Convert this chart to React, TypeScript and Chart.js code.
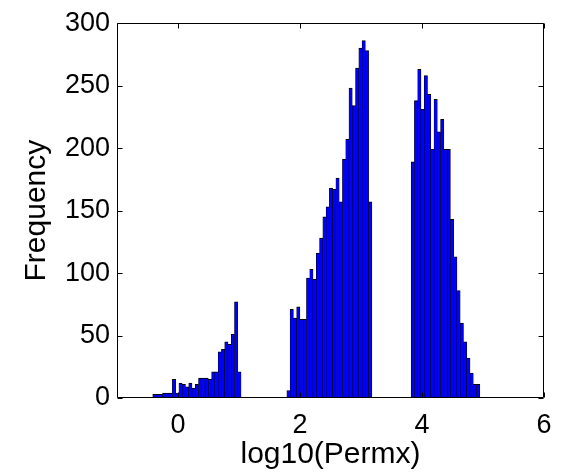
import React, { useEffect, useRef } from "react";
import { Chart, registerables } from "chart.js";

Chart.register(...registerables);

// Histogram: 100 equal bins between binStart and binEnd
const binStart = -0.414;
const binEnd = 4.948;
const counts: number[] = [
  // cluster 1
  3, 3, 3, 4, 4, 4, 15, 4, 12, 11, 9, 12, 8, 11, 16, 16, 16, 15, 21, 21, 37, 39, 45, 43, 51, 77, 21,
  // gap
  0, 0, 0, 0, 0, 0, 0, 0, 0, 0, 0, 0, 0, 0,
  // cluster 2
  6, 71, 64, 73, 63, 63, 96, 103, 95, 116, 128, 145, 153, 168, 167, 176, 157, 191, 207, 248, 234, 264, 280, 286, 278, 157,
  // gap
  0, 0, 0, 0, 0, 0, 0, 0, 0, 0, 0, 0,
  // cluster 3
  189, 238, 263, 231, 258, 243, 199, 239, 213, 223, 199, 199, 143, 113, 86, 60, 45, 32, 20, 11, 11,
];
const xTicks = [0, 2, 4, 6];
const yTicks = [0, 50, 100, 150, 200, 250, 300];
const xTitle = "log10(Permx)";
const yTitle = "Frequency";

const FONT = "'Liberation Sans', Arial, Helvetica, sans-serif";

const boxPlugin = {
  id: "matlabBox",
  afterDraw(chart: any) {
    const { ctx, chartArea, scales } = chart;
    const { left, right, top, bottom } = chartArea;
    const tl = 5;
    ctx.save();
    ctx.strokeStyle = "#000";
    ctx.lineWidth = 1;
    ctx.beginPath();
    const L = Math.round(left) + 0.5;
    const R = Math.round(right) - 0.5;
    const T = Math.round(top) + 0.5;
    const B = Math.round(bottom) - 0.5;
    ctx.rect(L, T, R - L, B - T);
    for (const v of xTicks) {
      const px = Math.round(scales.x.getPixelForValue(v)) + 0.5;
      ctx.moveTo(px, B);
      ctx.lineTo(px, B - tl);
      ctx.moveTo(px, T);
      ctx.lineTo(px, T + tl);
    }
    for (const v of yTicks) {
      const py = Math.round(scales.y.getPixelForValue(v)) + 0.5;
      ctx.moveTo(L, py);
      ctx.lineTo(L + tl, py);
      ctx.moveTo(R, py);
      ctx.lineTo(R - tl, py);
    }
    ctx.stroke();
    ctx.restore();
  },
};

export default function App() {
  const ref = useRef<HTMLCanvasElement | null>(null);
  useEffect(() => {
    if (!ref.current) return;
    const w = (binEnd - binStart) / counts.length;
    const data = counts.map((c, i) => ({ x: binStart + (i + 0.5) * w, y: c === 0 ? null : c }));
    const chart = new Chart(ref.current, {
      type: "bar",
      data: {
        datasets: [
          {
            data: data as any,
            backgroundColor: "#0000ff",
            borderColor: "#000000",
            borderWidth: { top: 1, left: 0.6, right: 0.6, bottom: 0 } as any,
            borderSkipped: false,
            barPercentage: 1,
            categoryPercentage: 1,
          },
        ],
      },
      options: {
        responsive: false,
        animation: false,
        events: [],
        layout: { padding: { left: 0, right: 22, top: 22, bottom: 0 } },
        plugins: { legend: { display: false }, tooltip: { enabled: false } },
        scales: {
          x: {
            type: "linear",
            min: -1,
            max: 6,
            offset: false,
            grid: { display: false, drawTicks: false, tickLength: 0 },
            border: { display: false },
            afterBuildTicks: (s: any) => {
              s.ticks = xTicks.map((v) => ({ value: v }));
            },
            afterFit: (s: any) => {
              s.height = 74;
            },
            ticks: {
              padding: 11,
              color: "#000",
              maxRotation: 0,
              autoSkip: false,
              font: { family: FONT, size: 27 },
            },
            title: {
              display: true,
              text: xTitle,
              color: "#000",
              font: { family: FONT, size: 30 },
              padding: { top: 0, bottom: -1 },
            },
          },
          y: {
            type: "linear",
            min: 0,
            max: 300,
            grid: { display: false, drawTicks: false, tickLength: 0 },
            border: { display: false },
            afterBuildTicks: (s: any) => {
              s.ticks = yTicks.map((v) => ({ value: v }));
            },
            afterFit: (s: any) => {
              s.width = 117;
            },
            ticks: {
              padding: 7,
              color: "#000",
              autoSkip: false,
              font: { family: FONT, size: 27 },
            },
            title: {
              display: true,
              text: yTitle,
              color: "#000",
              font: { family: FONT, size: 30 },
              padding: { top: 19, bottom: 0 },
            },
          },
        },
      },
      plugins: [boxPlugin],
    });
    return () => chart.destroy();
  }, []);
  return (
    <div style={{ position: "absolute", left: 0, top: 0, width: 566, height: 472, background: "#fff" }}>
      <canvas ref={ref} width={566} height={472} style={{ display: "block" }} />
    </div>
  );
}
